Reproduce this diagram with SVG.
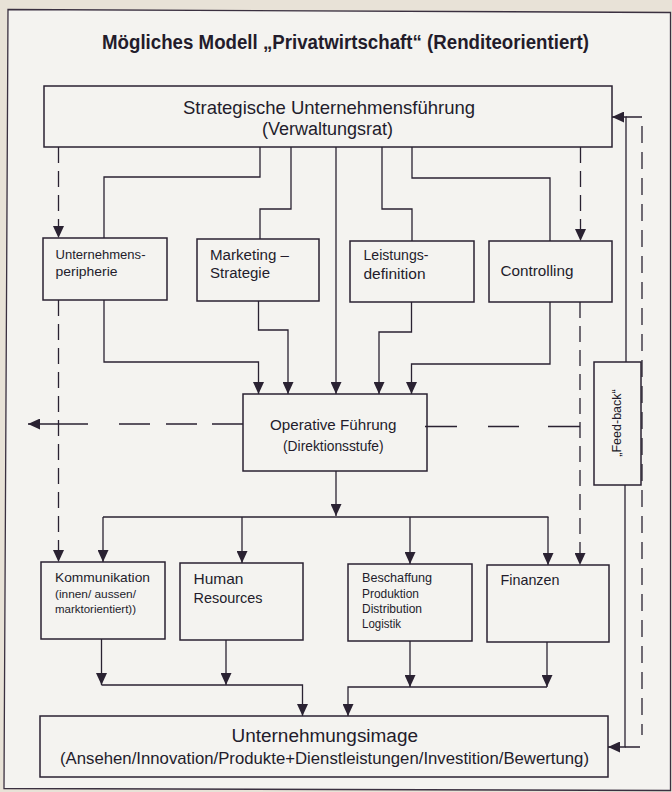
<svg xmlns="http://www.w3.org/2000/svg" width="672" height="792" viewBox="0 0 672 792">
<defs>
<marker id="ah" markerUnits="userSpaceOnUse" markerWidth="12" markerHeight="11" viewBox="0 0 12 11" refX="12" refY="5.5" orient="auto">
<path d="M0,0 L12,5.5 L0,11 z" fill="#2a2232"/>
</marker>
<style>
.box{fill:none;stroke:#2a2232;stroke-width:1.5}
.ln{fill:none;stroke:#2a2232;stroke-width:1.3}
.dsh{fill:none;stroke:#2a2232;stroke-width:1.3;stroke-dasharray:16 8}
.arr{marker-end:url(#ah)}
text{font-family:"Liberation Sans",Arial,sans-serif;fill:#231c2b}
</style>
</defs>
<rect x="0" y="0" width="672" height="792" fill="#e8e2d7"/>
<polygon points="8,9.5 670.5,12.5 670.5,790.5 4,788.5" fill="#f4f3f0" stroke="#3a3040" stroke-width="1.3"/>

<g id="title">
<text x="102" y="48.5" font-size="19.5" font-weight="bold" textLength="487" lengthAdjust="spacingAndGlyphs">Mögliches Modell „Privatwirtschaft“ (Renditeorientiert)</text>
</g>

<g id="connectors">
<!-- top box to row 2 -->
<path class="ln" d="M260,147 V177 H104 V238"/>
<path class="ln" d="M291,147 V209 H260 V239"/>
<path class="ln arr" d="M336,147 V394"/>
<path class="ln" d="M382,147 V209 H412 V241"/>
<path class="ln" d="M412,147 V178 H550 V241"/>
<!-- row 2 to operative -->
<path class="ln arr" d="M104,300 V362 H258.5 V394"/>
<path class="ln arr" d="M258.5,301 V330 H288 V394"/>
<path class="ln arr" d="M411.5,302 V332 H379 V394"/>
<path class="ln arr" d="M550,302 V364 H411.5 V394"/>
<!-- operative to row 3 -->
<path class="ln arr" d="M336,471 V516"/>
<path class="ln" d="M103,517 H548.5"/>
<path class="ln arr" d="M103,517 V562"/>
<path class="ln arr" d="M242,517 V563"/>
<path class="ln arr" d="M410,517 V564"/>
<path class="ln arr" d="M548,517 V565"/>
<!-- row 3 to bottom -->
<path class="ln arr" d="M101.5,639 V685"/>
<path class="ln arr" d="M226,640 V685"/>
<path class="ln arr" d="M101.5,685 H302.5 V716"/>
<path class="ln arr" d="M410,641 V687"/>
<path class="ln arr" d="M547,642 V687"/>
<path class="ln arr" d="M547,687 H348 V716"/>
<!-- dashed verticals -->
<path class="dsh arr" d="M58.5,147 V238"/>
<path class="dsh arr" d="M58.5,300 V562"/>
<path class="dsh arr" d="M580.5,147 V241"/>
<path class="dsh arr" d="M580,302 V565"/>
<!-- dashed horizontals from operative -->
<path class="ln" d="M243,424 H212 M197,424 H166 M150,424 H119"/>
<path class="ln arr" d="M88,424 H28"/>
<path class="ln" d="M425,426.5 H457 M488,426.5 H519 M548,426.5 H580"/>
<!-- feedback -->
<path class="ln arr" d="M626,362 V117 H612"/>
<path class="ln arr" d="M625,485 V747 H608"/>
<path class="ln" d="M626,117 H642 M625,747 H640"/>
<path class="ln" style="stroke-dasharray:17 9" d="M642,126 V735"/>
</g>

<g id="strategische-unternehmensfuehrung">
<rect class="box" x="44" y="86" width="568" height="61"/>
<text x="183" y="114" font-size="18.5" textLength="292" lengthAdjust="spacingAndGlyphs">Strategische Unternehmensführung</text>
<text x="262" y="135" font-size="18" textLength="131" lengthAdjust="spacingAndGlyphs">(Verwaltungsrat)</text>
</g>

<g id="unternehmensperipherie">
<rect class="box" x="43" y="238" width="124" height="62"/>
<text x="55.5" y="259" font-size="12" textLength="90" lengthAdjust="spacingAndGlyphs">Unternehmens-</text>
<text x="55.5" y="276" font-size="12" textLength="62" lengthAdjust="spacingAndGlyphs">peripherie</text>
</g>

<g id="marketing-strategie">
<rect class="box" x="197" y="239" width="122" height="62"/>
<text x="210" y="260" font-size="14" textLength="79" lengthAdjust="spacingAndGlyphs">Marketing –</text>
<text x="210" y="278" font-size="14" textLength="60" lengthAdjust="spacingAndGlyphs">Strategie</text>
</g>

<g id="leistungsdefinition">
<rect class="box" x="350" y="241" width="124" height="61"/>
<text x="363.5" y="260" font-size="14" textLength="65" lengthAdjust="spacingAndGlyphs">Leistungs-</text>
<text x="363.5" y="279" font-size="14" textLength="62" lengthAdjust="spacingAndGlyphs">definition</text>
</g>

<g id="controlling">
<rect class="box" x="489" y="241" width="123" height="61"/>
<text x="500.5" y="276" font-size="15" textLength="73" lengthAdjust="spacingAndGlyphs">Controlling</text>
</g>

<g id="operative-fuehrung">
<rect class="box" x="243" y="394" width="184" height="77"/>
<text x="270" y="430" font-size="15" textLength="126.5" lengthAdjust="spacingAndGlyphs">Operative Führung</text>
<text x="283" y="451" font-size="15" textLength="100.5" lengthAdjust="spacingAndGlyphs">(Direktionsstufe)</text>
</g>

<g id="feed-back">
<rect class="box" x="594" y="362" width="47" height="123"/>
<text transform="translate(621,423) rotate(-90)" text-anchor="middle" font-size="12.5">„Feed-back“</text>
</g>

<g id="kommunikation">
<rect class="box" x="41" y="562" width="124" height="77"/>
<text x="55" y="581.5" font-size="13.5" textLength="95" lengthAdjust="spacingAndGlyphs">Kommunikation</text>
<text x="55" y="598" font-size="11.5" textLength="81" lengthAdjust="spacingAndGlyphs">(innen/ aussen/</text>
<text x="55" y="612.5" font-size="11.5" textLength="81" lengthAdjust="spacingAndGlyphs">marktorientiert))</text>
</g>

<g id="human-resources">
<rect class="box" x="180" y="563" width="123" height="77"/>
<text x="193.5" y="584" font-size="15" textLength="50" lengthAdjust="spacingAndGlyphs">Human</text>
<text x="193.5" y="602.5" font-size="15" textLength="69" lengthAdjust="spacingAndGlyphs">Resources</text>
</g>

<g id="beschaffung">
<rect class="box" x="348" y="564" width="124" height="77"/>
<text x="362" y="582" font-size="12.5" textLength="70" lengthAdjust="spacingAndGlyphs">Beschaffung</text>
<text x="362" y="597.5" font-size="12.5" textLength="57" lengthAdjust="spacingAndGlyphs">Produktion</text>
<text x="362" y="612.7" font-size="12.5" textLength="60" lengthAdjust="spacingAndGlyphs">Distribution</text>
<text x="362" y="627.7" font-size="12.5" textLength="39" lengthAdjust="spacingAndGlyphs">Logistik</text>
</g>

<g id="finanzen">
<rect class="box" x="487" y="565" width="122" height="77"/>
<text x="500.5" y="585" font-size="14.5" textLength="59" lengthAdjust="spacingAndGlyphs">Finanzen</text>
</g>

<g id="unternehmungsimage">
<rect class="box" x="40" y="716" width="568" height="61"/>
<text x="231.5" y="742" font-size="18" textLength="186.5" lengthAdjust="spacingAndGlyphs">Unternehmungsimage</text>
<text x="60" y="764" font-size="17" textLength="529" lengthAdjust="spacingAndGlyphs">(Ansehen/Innovation/Produkte+Dienstleistungen/Investition/Bewertung)</text>
</g>
</svg>
